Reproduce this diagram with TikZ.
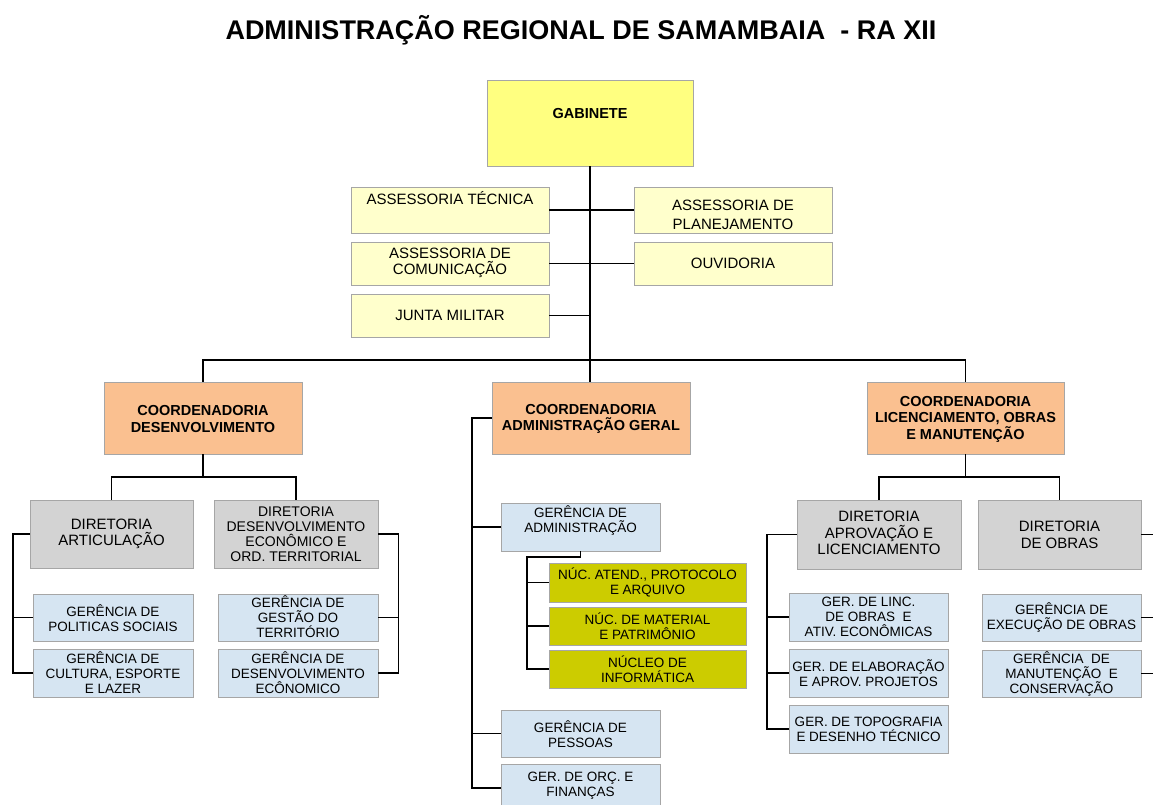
\documentclass[tikz,border=0pt]{standalone}
\usepackage{fontspec}
\setmainfont{Liberation Sans}
\definecolor{cgab}{HTML}{FFFF80}
\definecolor{cass}{HTML}{FFFFCC}
\definecolor{ccoo}{HTML}{FAC090}
\definecolor{cdir}{HTML}{D3D3D3}
\definecolor{cger}{HTML}{D6E5F2}
\definecolor{cnuc}{HTML}{CCCC00}
\definecolor{cbrd}{HTML}{A6A6A6}
\newcommand{\orgbox}[9]{%
  \node[#1, minimum width={#6-#4}, minimum height={#7-#5}] (#3) at ({(#4+#6)/2},{(#5+#7)/2}) {};
  \node[lbl,#2] (#3-t) at ({(#4+#6)/2},#8) {#9};}
\begin{document}
\begin{tikzpicture}[x=1pt,y=-1pt,
  box/.style={draw=cbrd, line width=0.8pt, inner sep=0pt, rectangle},
  gabbox/.style={box, fill=cgab},
  assbox/.style={box, fill=cass},
  coobox/.style={box, fill=ccoo},
  dirbox/.style={box, fill=cdir},
  gerbox/.style={box, fill=cger},
  nucbox/.style={box, fill=cnuc},
  lbl/.style={align=center, inner sep=0pt, font=\fontsize{13.5}{15}\selectfont},
  asslbl/.style={font=\fontsize{15}{16}\selectfont},
  boldlbl/.style={font=\fontsize{14.5}{16.5}\selectfont\bfseries},
  dirlbl/.style={font=\fontsize{15}{16.5}\selectfont},
  conn/.style={line width=1.8pt, black}]
\useasboundingbox (0,0) rectangle (1153,805);
\clip (0,0) rectangle (1153,805);
\fill[white] (0,0) rectangle (1153,805);

\node[font=\fontsize{27}{30}\selectfont\bfseries] (title) at (581,30) {ADMINISTRAÇÃO REGIONAL DE SAMAMBAIA \ - RA XII};

% top
\orgbox{gabbox}{boldlbl}{gab}{487}{80}{693}{166}{114}{GABINETE}
\orgbox{assbox}{asslbl}{at}{351}{187}{549}{233}{198}{ASSESSORIA TÉCNICA}
\orgbox{assbox}{asslbl}{ac}{351}{242}{549}{285}{263}{ASSESSORIA DE\\COMUNICAÇÃO}
\orgbox{assbox}{asslbl}{jm}{351}{294}{549}{337}{315}{JUNTA MILITAR}
\orgbox{assbox}{font=\fontsize{15}{18.5}\selectfont}{ap}{634}{187}{832}{233}{215}{ASSESSORIA DE\\PLANEJAMENTO}
\orgbox{assbox}{asslbl}{ouv}{634}{242}{832}{285}{263}{OUVIDORIA}

% coordenadorias
\orgbox{coobox}{boldlbl}{cd}{104}{382}{302}{454}{419}{COORDENADORIA\\DESENVOLVIMENTO}
\orgbox{coobox}{boldlbl}{ca}{492}{382}{690}{454}{419}{COORDENADORIA\\ADMINISTRAÇÃO GERAL}
\orgbox{coobox}{boldlbl}{cl}{867}{382}{1064}{454}{419}{COORDENADORIA\\LICENCIAMENTO, OBRAS\\E MANUTENÇÃO}

% left branch
\orgbox{dirbox}{dirlbl}{da}{30}{500}{193}{568}{534}{DIRETORIA\\ARTICULAÇÃO}
\orgbox{dirbox}{font=\fontsize{14}{15}\selectfont}{dd}{214}{500}{378}{568}{534}{DIRETORIA\\DESENVOLVIMENTO\\ECONÔMICO E\\ORD. TERRITORIAL}
\orgbox{gerbox}{}{gp}{33}{594}{193}{641}{618}{GERÊNCIA DE\\POLITICAS SOCIAIS}
\orgbox{gerbox}{}{gc}{33}{649}{193}{697}{673}{GERÊNCIA DE\\CULTURA, ESPORTE\\E LAZER}
\orgbox{gerbox}{}{gg}{218}{594}{378}{641}{617}{GERÊNCIA DE\\GESTÃO DO\\TERRITÓRIO}
\orgbox{gerbox}{}{gd}{218}{649}{378}{697}{673}{GERÊNCIA DE\\DESENVOLVIMENTO\\ECÔNOMICO}

% middle branch
\orgbox{gerbox}{}{gadm}{501}{503}{660}{551}{521}{GERÊNCIA DE\\ADMINISTRAÇÃO}
\orgbox{nucbox}{}{n1}{549}{563}{746}{602}{582}{NÚC. ATEND., PROTOCOLO\\E ARQUIVO}
\orgbox{nucbox}{}{n2}{549}{607}{746}{645}{626}{NÚC. DE MATERIAL\\E PATRIMÔNIO}
\orgbox{nucbox}{}{n3}{549}{650}{746}{688}{669}{NÚCLEO DE\\INFORMÁTICA}
\orgbox{gerbox}{}{gpes}{501}{710}{660}{757}{734}{GERÊNCIA DE\\PESSOAS}
\orgbox{gerbox}{}{gorc}{501}{764}{660}{812}{786}{GER. DE ORÇ. E\\FINANÇAS}

% right branch
\orgbox{dirbox}{dirlbl}{dap}{797}{500}{961}{569}{533}{DIRETORIA\\APROVAÇÃO E\\LICENCIAMENTO}
\orgbox{dirbox}{dirlbl}{dob}{978}{500}{1141}{569}{535}{DIRETORIA\\DE OBRAS}
\orgbox{gerbox}{}{gl}{789}{593}{948}{641}{617}{GER. DE LINC.\\DE OBRAS \ E\\ATIV. ECONÔMICAS}
\orgbox{gerbox}{}{ge}{789}{649}{948}{697}{673}{GER. DE ELABORAÇÃO\\E APROV. PROJETOS}
\orgbox{gerbox}{}{gt}{789}{705}{948}{753}{729}{GER. DE TOPOGRAFIA\\E DESENHO TÉCNICO}
\orgbox{gerbox}{}{gx}{982}{594}{1141}{641}{618}{GERÊNCIA DE\\EXECUÇÃO DE OBRAS}
\orgbox{gerbox}{}{gm}{982}{650}{1141}{697}{674}{GERÊNCIA \ DE\\MANUTENÇÃO \ E\\CONSERVAÇÃO}

% connectors
\coordinate (busy) at (0,360);
\coordinate (subx) at (527,557);
\draw[conn] (gab.south) -- (gab.south |- ca.north);
\draw[conn] (at.east) -- (ap.west);
\draw[conn] (ac.east) -- (ouv.west);
\draw[conn] (jm.east) -- (jm.east -| gab.south);
\draw[conn] (cd.north) -- (cd.north |- busy) -- (cl.north |- busy) -- (cl.north);

\draw[conn] (cd.south) -- ++(0,23);
\draw[conn] (da.north) -- ++(0,-23) -| (dd.north);
\draw[conn] (da.west) -- ++(-17,0) |- (gc.west);
\draw[conn] (gp.west) -- ++(-20,0);
\draw[conn] (dd.east) -- ++(20,0) |- (gd.east);
\draw[conn] (gg.east) -- ++(20,0);

\draw[conn] (ca.west) -- ++(-20,0) |- (gorc.west);
\draw[conn] (gadm.west) -- ++(-29,0);
\draw[conn] (gpes.west) -- ++(-29,0);
\draw[conn] (gadm.south) |- (subx) |- (n3.west);
\draw[conn] (n1.west) -- ++(-22,0);
\draw[conn] (n2.west) -- ++(-22,0);

\draw[conn] (cl.south) -- ++(0,23);
\draw[conn] (dap.north) -- ++(0,-23) -| (dob.north);
\draw[conn] (dap.west) -- ++(-30,0) |- (gt.west);
\draw[conn] (gl.west) -- ++(-22,0);
\draw[conn] (ge.west) -- ++(-22,0);
\draw[conn] (dob.east) -- ++(20,0) |- (gm.east);
\draw[conn] (gx.east) -- ++(20,0);
\end{tikzpicture}
\end{document}
